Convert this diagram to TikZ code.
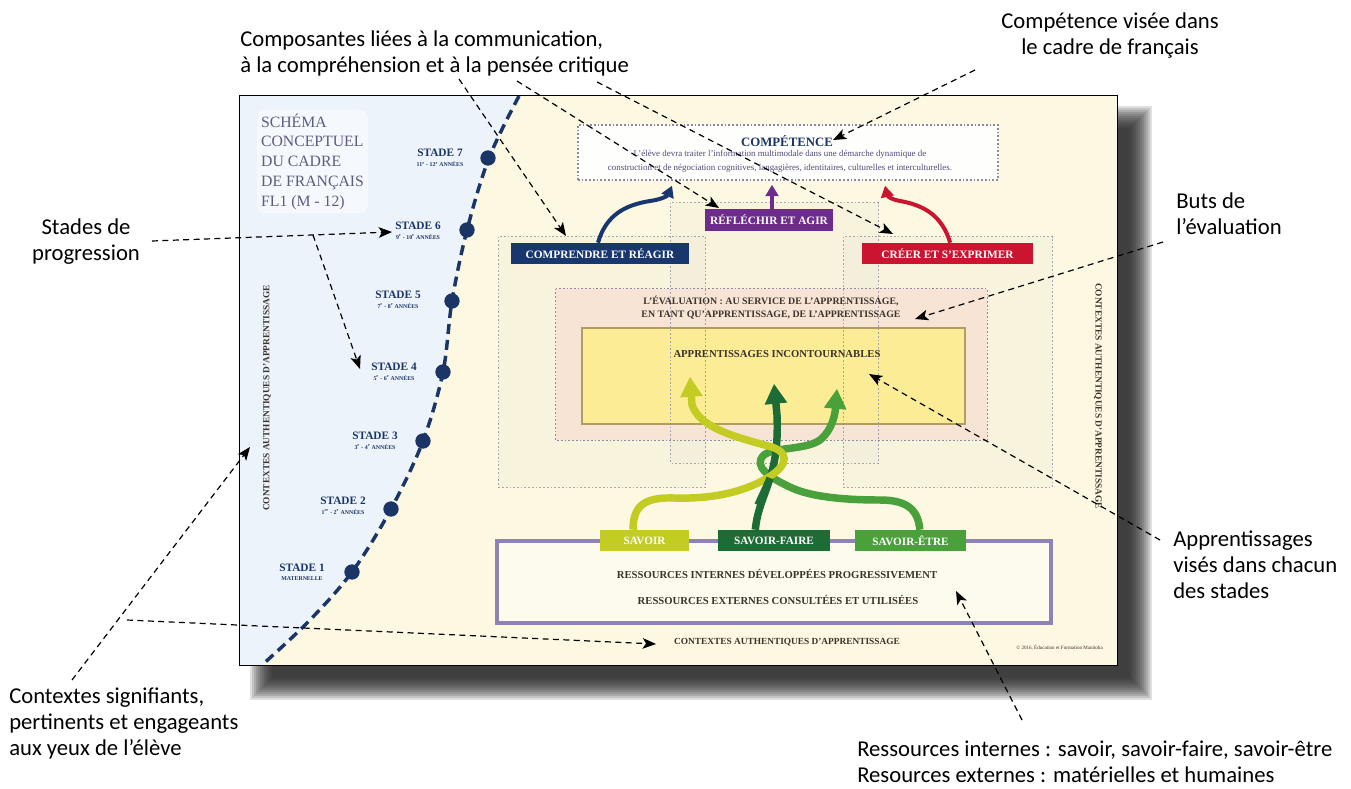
\documentclass[tikz,border=0pt]{standalone}
\usepackage{fontspec}
\setmainfont{Liberation Serif}
\newfontfamily\annotfont{Carlito}
\usetikzlibrary{arrows.meta,calc}

\definecolor{cream}{HTML}{FCF8E1}
\definecolor{paleblue}{HTML}{EDF3FA}
\definecolor{navy}{HTML}{1B3566}
\definecolor{inkbrown}{HTML}{3B332C}
\definecolor{dotgray}{HTML}{8C88A6}
\definecolor{peach}{HTML}{F7E3D4}
\definecolor{lemon}{HTML}{FDEC96}
\definecolor{lemonedge}{HTML}{B19C62}
\definecolor{labblue}{HTML}{17376E}
\definecolor{labpurple}{HTML}{6D2B8B}
\definecolor{labred}{HTML}{CB1530}
\definecolor{gsavoir}{HTML}{C2CC22}
\definecolor{gfaire}{HTML}{1D6B35}
\definecolor{getre}{HTML}{4AA03B}
\definecolor{lilac}{HTML}{8D84B3}
\definecolor{titlegray}{HTML}{5A5E80}
\definecolor{desccol}{HTML}{4E4A7A}
\definecolor{colfill}{HTML}{E6DFD0}
\definecolor{shadowc}{HTML}{1E1E1E}

\begin{document}
\begin{tikzpicture}[x=0.75pt,y=-0.75pt,
  annot/.style={font=\annotfont\fontsize{17}{19.5}\selectfont, inner sep=0pt, text=black},
  callout/.style={black, line width=0.9pt, dash pattern=on 4.5pt off 3.3pt,
    -{Stealth[length=10pt,width=8pt,inset=2.5pt]}},
  dotline/.style={draw=dotgray, line width=1.1pt, dash pattern=on 1.3pt off 1.5pt},
  areabox/.style={inner sep=0pt, minimum width=#1},
  poster/.style={font=\bfseries\fontsize{#1}{#1}\selectfont, text=inkbrown, inner sep=0pt},
  stadelbl/.style={font=\bfseries\fontsize{8.5}{9}\selectfont, text=navy, inner sep=0pt},
  stadesub/.style={font=\bfseries\fontsize{4.4}{5}\selectfont, text=navy, inner sep=0pt},
  stadedot/.style={circle, fill=navy, minimum size=11.5pt, inner sep=0pt},
  labelbox/.style={fill=#1, text=white, font=\bfseries\fontsize{8.5}{9}\selectfont,
    minimum height=15.75pt, inner sep=0pt},
  braid/.style={draw=#1, line width=5.6pt, -{Triangle[width=16pt,length=15pt]}},
  linkarrow/.style={draw=#1, line width=3pt, -{Triangle[width=9.5pt,length=8.5pt]}}
]
\useasboundingbox (0,0) rectangle (1351,788);
\fill[white] (0,0) rectangle (1351,788);

% soft drop shadow of the poster
\foreach \k in {0,...,11}{
  \fill[shadowc, opacity=0.14] (250+2*\k,106+2*\k) rectangle (1152-2*\k,700-2*\k);
}

% poster sheet
\node[fill=cream, minimum width=657.75pt, minimum height=426.75pt, inner sep=0pt] (sheet) at (678.5,380.5) {};

% progression zone on the left
\fill[paleblue] (240,96) -- plot[smooth, tension=0.55] coordinates
  {(519,96) (489,158) (467,230) (452,301) (443,372) (423,441) (391,509) (352,572) (308,622) (262,665)}
  -- (240,665) -- cycle;
\draw[navy, line width=2.6pt, dash pattern=on 7.5pt off 4.5pt] plot[smooth, tension=0.55] coordinates
  {(519,96) (489,158) (467,230) (452,301) (443,372) (423,441) (391,509) (352,572) (308,622) (262,665)};

% title panel
\node[fill=white, fill opacity=0.45, text opacity=1, rounded corners=6pt, minimum width=83.25pt,
  minimum height=77.25pt, inner sep=0pt, align=left, text=titlegray,
  font=\fontsize{11.8}{14.8}\selectfont] (schema) at (312.5,161.5)
  {SCHÉMA\\CONCEPTUEL\\DU CADRE\\DE FRANÇAIS\\FL1 (M - 12)};

% stages
\node[stadedot] (d7) at (488,158) {};
\node[stadedot] (d6) at (467,230) {};
\node[stadedot] (d5) at (452,301) {};
\node[stadedot] (d4) at (443,372) {};
\node[stadedot] (d3) at (423,441) {};
\node[stadedot] (d2) at (391,509) {};
\node[stadedot] (d1) at (352,572) {};
\node[stadelbl] (s7) at (440,153) {STADE 7};
\node[stadesub] (s7y) at (440,164.5) {11\textsuperscript{e} - 12\textsuperscript{e} ANNÉES};
\node[stadelbl] (s6) at (418,226) {STADE 6};
\node[stadesub] (s6y) at (418,237) {9\textsuperscript{e} - 10\textsuperscript{e} ANNÉES};
\node[stadelbl] (s5) at (398,295) {STADE 5};
\node[stadesub] (s5y) at (398,306) {7\textsuperscript{e} - 8\textsuperscript{e} ANNÉES};
\node[stadelbl] (s4) at (394,367) {STADE 4};
\node[stadesub] (s4y) at (394,378) {5\textsuperscript{e} - 6\textsuperscript{e} ANNÉES};
\node[stadelbl] (s3) at (375,436) {STADE 3};
\node[stadesub] (s3y) at (375,447) {3\textsuperscript{e} - 4\textsuperscript{e} ANNÉES};
\node[stadelbl] (s2) at (343,501) {STADE 2};
\node[stadesub] (s2y) at (343,512) {1\textsuperscript{re} - 2\textsuperscript{e} ANNÉES};
\node[stadelbl] (s1) at (302,568) {STADE 1};
\node[stadesub] (s1y) at (302,579) {MATERNELLE};

% authentic contexts, three sides
\node[poster=7, rotate=90] (ctxL) at (267,398) {CONTEXTES AUTHENTIQUES D’APPRENTISSAGE};
\node[poster=7, rotate=-90] (ctxR) at (1098,396) {CONTEXTES AUTHENTIQUES D’APPRENTISSAGE};
\node[poster=7] (ctxB) at (787,642) {CONTEXTES AUTHENTIQUES D’APPRENTISSAGE};
\node[font=\fontsize{3.8}{4}\selectfont, text=inkbrown, inner sep=0pt, anchor=east] (copy) at (1103,648)
  {© 2016, Éducation et Formation Manitoba};

% three overlapping columns (tint)
\node[areabox=154.5pt, minimum height=187.5pt, fill=colfill, fill opacity=0.2] (lcol) at (602,362) {};
\node[areabox=155.25pt, minimum height=195pt, fill=colfill, fill opacity=0.2] (mcol) at (774.5,333) {};
\node[areabox=156pt, minimum height=187.5pt, fill=colfill, fill opacity=0.2] (rcol) at (948,362) {};

% assessment and essential learning
\node[areabox=323.25pt, minimum height=113.25pt, fill=peach, fill opacity=0.9] (evalbox) at (771.5,364.5) {};
\draw[dotline] (evalbox.north west) rectangle (evalbox.south east);
\node[areabox=287.25pt, minimum height=72pt, fill=lemon, draw=lemonedge, line width=1.1pt] (incont) at (773.5,376) {};

% column outlines over the boxes
\draw[dotline, draw opacity=0.75] (lcol.north west) rectangle (lcol.south east);
\draw[dotline, draw opacity=0.75] (mcol.north west) rectangle (mcol.south east);
\draw[dotline, draw opacity=0.75] (rcol.north west) rectangle (rcol.south east);

\node[poster=7.4, align=center, font=\bfseries\fontsize{7.4}{9.75}\selectfont] (evaltxt) at (771,307.5)
  {L’ÉVALUATION : AU SERVICE DE L’APPRENTISSAGE,\\EN TANT QU’APPRENTISSAGE, DE L’APPRENTISSAGE};
\node[poster=8] (incontT) at (777,354) {APPRENTISSAGES INCONTOURNABLES};

% competency
\node[areabox=315pt, minimum height=41.25pt, fill=white, fill opacity=0.9, dotline] (compet) at (788,152.5) {};
\node[font=\bfseries\fontsize{9.6}{10}\selectfont, text=navy, inner sep=0pt] (competT) at (787,141) {COMPÉTENCE};
\node[font=\fontsize{6.7}{10.5}\selectfont, text=desccol, align=center, inner sep=0pt] (competD) at (780,161.5)
  {L’élève devra traiter l’information multimodale dans une démarche dynamique de\\construction et de négociation cognitives, langagières, identitaires, culturelles et interculturelles.};

% resources
\node[areabox=415.5pt, minimum height=61.5pt, fill=white, fill opacity=0.45, draw=lilac, draw opacity=1,
  line width=2.6pt] (ress) at (774,582) {};
\node[poster=8] (ressI) at (777,574) {RESSOURCES INTERNES DÉVELOPPÉES PROGRESSIVEMENT};
\node[poster=8] (ressE) at (778,600) {RESSOURCES EXTERNES CONSULTÉES ET UTILISÉES};

% the three components
\node[labelbox=labblue, minimum width=133.5pt] (comp) at (600,253.5) {COMPRENDRE ET RÉAGIR};
\node[labelbox=labpurple, minimum width=96pt, minimum height=16.5pt] (refl) at (769,220) {RÉFLÉCHIR ET AGIR};
\node[labelbox=labred, minimum width=128.25pt] (creer) at (947.5,253.5) {CRÉER ET S’EXPRIMER};

\draw[linkarrow=labblue] ([xshift=-1.5pt]comp.north) .. controls (606,215) and (625,205) .. (650,201)
  .. controls (664,199) and (668,195) .. ($(compet.south)+(-116,5)$);
\draw[linkarrow=labpurple] ([xshift=2.25pt]refl.north) -- ($(compet.south)+(-16,4)$);
\draw[linkarrow=labred] ([xshift=2pt]creer.north) .. controls (942,215) and (923,205) .. (900,201)
  .. controls (889,199) and (887,195) .. ($(compet.south)+(97,5)$);

% knowledge labels
\node[labelbox=gsavoir, minimum width=66.75pt, font=\bfseries\fontsize{8.4}{9}\selectfont] (savoir) at (644.5,540.5) {SAVOIR};
\node[labelbox=gfaire, minimum width=84pt, font=\bfseries\fontsize{8.4}{9}\selectfont] (faire) at (774,540.5) {SAVOIR-FAIRE};
\node[labelbox=getre, minimum width=83.25pt, font=\bfseries\fontsize{8.4}{9}\selectfont] (etre) at (910.5,540.5) {SAVOIR-ÊTRE};

% braided arrows
\draw[braid=getre] ([xshift=7pt]etre.north) .. controls (918,508) and (905,500) .. (880,500)
  .. controls (845,500) and (812,497) .. (792,488)
  .. controls (770,478) and (752,466) .. (764,455)
  .. controls (774,447) and (806,450) .. (820,440)
  .. controls (832,430) and (836,415) .. (836,400) -- ($(incont.south)+(63.5,-36)$);
\draw[braid=gfaire] ([xshift=-14pt]faire.north) .. controls (757,510) and (765,495) .. (770,478)
  .. controls (776,460) and (778,440) .. (777,415) -- ($(incont.south)+(0.5,-41)$);
\draw[braid=gsavoir] ([xshift=-8.6pt]savoir.north) .. controls (633,505) and (645,497) .. (675,498)
  .. controls (710,499) and (738,493) .. (760,482)
  .. controls (784,470) and (794,455) .. (772,447)
  .. controls (735,437) and (700,428) .. (692,405) -- ($(incont.south)+(-83.5,-48)$);
\draw[gfaire, line width=5.6pt] (758,505) .. controls (763,494) and (767,486) .. (770,478);

% sheet outline
\draw[black, line width=1pt] (sheet.north west) rectangle (sheet.south east);

% annotations
\node[annot, anchor=north west, align=left] (tcomp) at (240,27.8)
  {\strut Composantes liées à la communication,\\à la compréhension et à la pensée critique};
\node[annot, anchor=north, align=center] (tcompet) at (1110,9.8)
  {\strut Compétence visée dans\\le cadre de français};
\node[annot, anchor=north, align=center] (tstades) at (86,215.8)
  {\strut Stades de\\progression};
\node[annot, anchor=north west, align=left] (tbuts) at (1176,189.8)
  {\strut Buts de\\l’évaluation};
\node[annot, anchor=north west, align=left] (tappr) at (1173,527.8)
  {\strut Apprentissages\\visés dans chacun\\des stades};
\node[annot, anchor=north west, align=left] (tctx) at (9,684.8)
  {\strut Contextes signifiants,\\pertinents et engageants\\aux yeux de l’élève};
\node[annot, anchor=north west, align=left] (tress) at (857,737.8)
  {\strut Ressources internes : savoir, savoir-faire, savoir-être\\Resources externes : matérielles et humaines};

% callout ends
\coordinate (a1) at (459,79);   \coordinate (b1) at (566,236);
\coordinate (a2) at (517,81);   \coordinate (b2) at (719,208);
\coordinate (a3) at (597,82);   \coordinate (b3) at (893,234);
\coordinate (a4) at (975,70);   \coordinate (b4) at (833,140);
\coordinate (a5) at (152,241);  \coordinate (b5) at (392,232);
\coordinate (a6) at (313,235);  \coordinate (b6) at (360,369);
\coordinate (a7) at (1163,242); \coordinate (b7) at (915,319);
\coordinate (a8) at (1160,540); \coordinate (b8) at (869,374);
\coordinate (a9) at (1022,720); \coordinate (b9) at (956,591);
\coordinate (a10) at (72,680);  \coordinate (b10) at (250,447);
\coordinate (a11) at (127,620); \coordinate (b11) at (656,644);

\foreach \i in {1,...,11}{ \draw[callout] (a\i) -- (b\i); }
\end{tikzpicture}
\end{document}
